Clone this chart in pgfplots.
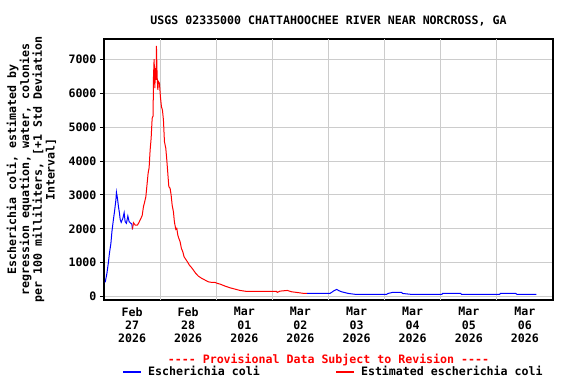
\documentclass[border=0pt]{standalone}
\usepackage{fontspec}
\setmonofont{DejaVu Sans Mono}
\usepackage{pgfplots}
\pgfplotsset{compat=1.18}
\newcommand{\cf}{\ttfamily\bfseries\fontsize{11.6}{13.3}\selectfont}
\begin{document}
\begin{tikzpicture}
\useasboundingbox (-104pt,-84pt) rectangle (472pt,300pt);
\begin{axis}[
 at={(0,0)}, anchor=south west,
 scale only axis, width=449pt, height=261pt,
 xmin=0, xmax=8, ymin=-100, ymax=7600,
 clip=false,
 axis line style={line width=1.2pt},
 xtick={0.5,1.5,...,7.5},
 xticklabels={{Feb\\27\\2026},{Feb\\28\\2026},{Mar\\01\\2026},{Mar\\02\\2026},{Mar\\03\\2026},{Mar\\04\\2026},{Mar\\05\\2026},{Mar\\06\\2026}},
 xticklabel style={align=center, font=\cf},
 xtick style={draw=none},
 extra x ticks={1,2,...,7},
 extra x tick labels={},
 extra x tick style={grid=major, major tick length=0pt},
 ytick={0,1000,...,7000},
 ymajorgrids,
 grid style={color=black!20, line width=1pt},
 yticklabel style={font=\cf},
 ytick pos=left, xtick pos=bottom,
 tick align=outside, major tick length=4pt,
 ytick style={black, line width=1pt},
 /pgf/number format/assume math mode=true,
 /pgf/number format/set thousands separator={},
 scaled y ticks=false,
 legend columns=2,
 legend cell align=left,
 legend image code/.code={\draw[#1, line width=1.2pt] (0pt,0pt) -- (18pt,0pt);},
 legend style={at={(0,0)}, anchor=west, xshift=18.7pt, yshift=-72pt,
   draw=none, fill=none, inner sep=0pt, font=\cf,
   nodes={inner sep=0pt},
   /tikz/every odd column/.append style={column sep=6pt},
   /tikz/every even column/.append style={column sep=76pt}},
]
\addplot[blue, line width=1pt] coordinates {
(0.021,420) (0.052,685) (0.080,1028) (0.098,1294) (0.123,1570) (0.141,1914)
(0.169,2289) (0.187,2505) (0.212,2850) (0.222,3077) (0.240,2900) (0.258,2652)
(0.276,2457) (0.288,2280) (0.306,2191) (0.336,2309) (0.359,2475) (0.377,2210)
(0.400,2162) (0.425,2377) (0.448,2210) (0.479,2162) (0.496,2141) (0.507,1985)
};
\addlegendentry{Escherichia coli}
\addplot[red, line width=1pt] coordinates {
(0.507,1985) (0.525,2180) (0.555,2112) (0.596,2112) (0.621,2180) (0.649,2280)
(0.680,2386) (0.703,2652) (0.721,2770) (0.746,2947) (0.763,3243) (0.786,3638)
(0.804,3804) (0.822,4327) (0.840,4672) (0.858,5263) (0.875,5331) (0.881,6444)
(0.893,7005) (0.906,6149) (0.916,6739) (0.929,6394) (0.934,7398) (0.947,6492)
(0.959,6099) (0.970,6345) (0.988,6296) (1.005,5902) (1.023,5606) (1.041,5508)
(1.059,5213) (1.077,4572) (1.101,4377) (1.119,4031) (1.137,3638) (1.155,3243)
(1.178,3195) (1.196,2998) (1.214,2702) (1.237,2505) (1.254,2210) (1.279,1985)
(1.297,2014) (1.315,1816) (1.333,1719) (1.356,1620) (1.379,1423) (1.404,1323)
(1.427,1175) (1.457,1099) (1.486,1028) (1.521,930) (1.557,862) (1.593,783)
(1.635,685) (1.681,605) (1.742,538) (1.801,487) (1.859,437) (1.920,419)
(1.979,419) (2.020,390) (2.068,369) (2.157,310) (2.246,260) (2.335,221)
(2.423,182) (2.543,153) (3.076,153) (3.087,124) (3.135,162) (3.265,182)
(3.343,143) (3.432,124) (3.562,94) (3.621,94)
};
\addlegendentry{Estimated escherichia coli}
\addplot[blue, line width=1pt, forget plot] coordinates {
(3.621,94) (4.025,94) (4.055,124) (4.096,172) (4.144,212) (4.190,172)
(4.233,143) (4.351,94) (4.488,65) (5.034,65) (5.062,94) (5.141,124)
(5.301,124) (5.319,94) (5.479,65) (6.023,65) (6.030,94) (6.356,94)
(6.368,65) (7.050,65) (7.062,94) (7.335,94) (7.358,65) (7.703,65)
};
\node[font=\cf, anchor=base] at (rel axis cs:0.5,1) [yshift=15pt] {USGS 02335000 CHATTAHOOCHEE RIVER NEAR NORCROSS, GA};
\node[font=\cf, text=red, anchor=base] at (rel axis cs:0.5,0) [yshift=-63pt] {---- Provisional Data Subject to Revision ----};
\node[xshift=-72.5pt, rotate=90, align=center, font=\ttfamily\bfseries\fontsize{11.6}{12.8}\selectfont] at (rel axis cs:0,0.5) {Escherichia coli, estimated by\\regression equation, water, colonies\\per 100 milliliters, [+1 Std Deviation\\Interval]};
\end{axis}
\end{tikzpicture}
\end{document}
